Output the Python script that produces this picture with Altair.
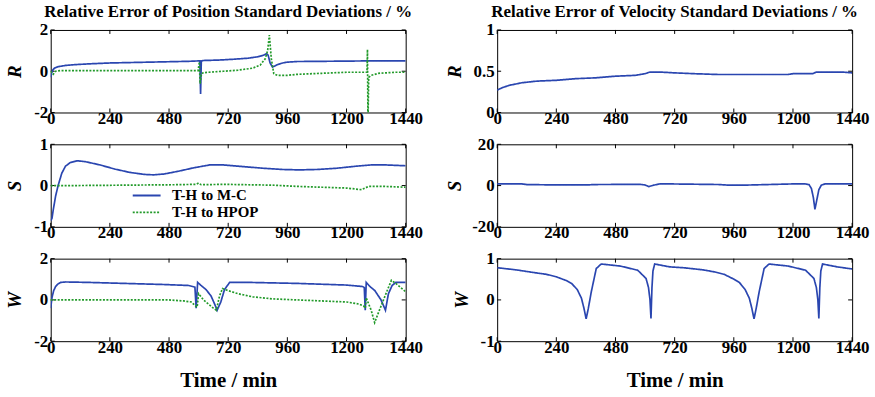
import altair as alt
import pandas as pd

# ---------------- data ----------------
SERIES = ["T-H to M-C", "T-H to HPOP"]
COLORS = ["#2a46b0", "#229a2a"]
X_TICKS = [0, 240, 480, 720, 960, 1200, 1440]

# Position R
pos_r_mc_t = [0, 3, 8, 15, 30, 60, 100, 160, 240, 320, 400, 480, 560, 600, 605, 608, 611, 620, 680, 740, 800, 840, 860, 875, 882, 890, 900, 920, 941, 960, 1000, 1100, 1200, 1280, 1360, 1440]
pos_r_mc_v = [-0.3, -0.1, 0.05, 0.15, 0.22, 0.28, 0.32, 0.36, 0.4, 0.42, 0.44, 0.46, 0.48, 0.5, 0.5, -1.1, 0.5, 0.52, 0.54, 0.58, 0.63, 0.7, 0.76, 0.85, 0.78, 0.4, 0.2, 0.32, 0.4, 0.44, 0.47, 0.48, 0.49, 0.5, 0.5, 0.5]
pos_r_hp_t = [0, 5, 10, 20, 40, 100, 300, 500, 598, 603, 606, 612, 620, 640, 700, 760, 820, 850, 870, 880, 887, 895, 905, 920, 960, 1000, 1100, 1200, 1283, 1285, 1287, 1290, 1300, 1330, 1400, 1440]
pos_r_hp_v = [0.0, -0.1, -0.15, 0.0, 0.03, 0.03, 0.03, 0.03, 0.03, 0.45, -0.6, -0.1, -0.08, -0.05, 0.0, 0.05, 0.15, 0.3, 0.6, 1.0, 1.75, 0.6, -0.12, -0.2, -0.2, -0.15, -0.1, -0.05, -0.05, 1.05, -2.5, -0.3, -0.2, -0.1, -0.05, -0.05]

# Position S
pos_s_mc_t = [0, 5, 10, 20, 30, 45, 60, 80, 108, 140, 200, 260, 320, 380, 417, 460, 520, 580, 645, 700, 780, 860, 940, 1008, 1080, 1160, 1240, 1300, 1360, 1440]
pos_s_mc_v = [-0.85, -0.8, -0.6, -0.25, 0.0, 0.3, 0.47, 0.56, 0.6, 0.58, 0.5, 0.4, 0.32, 0.27, 0.26, 0.28, 0.35, 0.43, 0.5, 0.5, 0.46, 0.42, 0.39, 0.38, 0.39, 0.42, 0.47, 0.5, 0.5, 0.48]
pos_s_hp_t = [0, 20, 100, 300, 500, 590, 600, 610, 700, 800, 900, 1000, 1100, 1200, 1261, 1275, 1290, 1350, 1440]
pos_s_hp_v = [0.0, 0.0, 0.0, 0.01, 0.02, 0.03, 0.06, 0.02, 0.03, 0.02, 0.01, -0.02, -0.04, -0.06, -0.1, -0.06, -0.02, -0.02, -0.04]

# Position W
pos_w_mc_t = [0, 5, 12, 20, 30, 40, 60, 150, 300, 450, 560, 585, 590, 596, 610, 630, 650, 665, 675, 690, 705, 726, 800, 1000, 1200, 1265, 1272, 1276, 1280, 1295, 1315, 1340, 1358, 1370, 1385, 1400, 1440]
pos_w_mc_v = [-0.4, 0.1, 0.45, 0.65, 0.78, 0.85, 0.87, 0.85, 0.8, 0.75, 0.7, 0.62, -0.4, 0.85, 0.7, 0.5, 0.2, -0.2, -0.5, -0.1, 0.5, 0.85, 0.85, 0.8, 0.72, 0.65, 0.6, -0.5, 0.85, 0.65, 0.45, 0.0, -0.5, 0.3, 0.7, 0.85, 0.85]
pos_w_hp_t = [0, 100, 300, 480, 540, 570, 588, 594, 600, 620, 640, 660, 672, 685, 697, 720, 760, 820, 900, 1000, 1100, 1200, 1250, 1270, 1276, 1280, 1290, 1300, 1314, 1330, 1350, 1370, 1382, 1400, 1420, 1440]
pos_w_hp_v = [0.0, 0.0, 0.0, 0.0, -0.05, -0.1, -0.3, -0.35, 0.3, 0.0, -0.2, -0.4, -0.5, 0.2, 0.55, 0.45, 0.3, 0.15, 0.05, 0.0, -0.05, -0.1, -0.2, -0.3, -0.4, 0.1, -0.2, -0.5, -1.1, -0.6, 0.0, 0.6, 0.95, 0.8, 0.6, 0.4]

# Velocity R
vel_r_t = [0, 20, 50, 100, 160, 240, 320, 400, 480, 560, 600, 620, 640, 660, 720, 800, 900, 1000, 1100, 1180, 1200, 1280, 1295, 1310, 1400, 1440]
vel_r_v = [0.27, 0.3, 0.33, 0.36, 0.38, 0.39, 0.41, 0.42, 0.44, 0.45, 0.47, 0.49, 0.49, 0.49, 0.48, 0.47, 0.46, 0.46, 0.46, 0.46, 0.47, 0.47, 0.49, 0.49, 0.49, 0.48]

# Velocity S
vel_s_t = [0, 100, 120, 240, 360, 400, 580, 600, 615, 635, 660, 700, 900, 940, 1000, 1100, 1200, 1250, 1265, 1275, 1283, 1289, 1295, 1305, 1315, 1330, 1440]
vel_s_v = [0.8, 0.8, 0.5, 0.3, 0.3, 0.5, 0.6, 0.3, -0.5, 0.2, 0.8, 0.8, 0.5, 0.2, 0.2, 0.5, 0.8, 0.8, 0.5, -1.5, -6.0, -11.5, -8.0, -2.0, 0.2, 0.8, 0.8]

# Velocity W
vel_w_t = [0, 75, 152, 200, 240, 280, 302, 325, 342, 352, 361, 370, 382, 402, 422, 500, 570, 604, 614, 620, 624, 628, 632, 639, 700, 756, 833, 881, 921, 961, 983, 1006, 1023, 1033, 1042, 1051, 1063, 1083, 1103, 1181, 1251, 1285, 1295, 1301, 1305, 1309, 1313, 1320, 1380, 1440]
vel_w_v = [0.78, 0.73, 0.66, 0.62, 0.56, 0.47, 0.4, 0.25, 0.04, -0.2, -0.46, -0.2, 0.2, 0.76, 0.87, 0.82, 0.72, 0.52, 0.3, 0.0, -0.45, 0.3, 0.7, 0.87, 0.8, 0.78, 0.73, 0.68, 0.62, 0.5, 0.42, 0.25, 0.04, -0.2, -0.46, -0.2, 0.2, 0.76, 0.87, 0.82, 0.72, 0.52, 0.3, 0.0, -0.45, 0.3, 0.7, 0.87, 0.8, 0.75]

# ---------------- build ----------------
W, H = 357, 83
FONT = "Liberation Serif"


def frame(pairs):
    rows = []
    for name, ts, vs in pairs:
        for t, v in zip(ts, vs):
            rows.append({"t": t, "v": v, "series": name})
    return pd.DataFrame(rows)


def panel(pairs, ydom, yticks, ylabel, title=None, xtitle=False, legend=False, ytitle_x=-36):
    df = frame(pairs)
    x = alt.X("t:Q", scale=alt.Scale(domain=[0, 1440], nice=False, zero=False),
              axis=alt.Axis(values=X_TICKS, title="Time / min" if xtitle else None,
                            titleY=46, titleBaseline="alphabetic", titleFontStyle="normal",
                            titleFontSize=21))
    y = alt.Y("v:Q", scale=alt.Scale(domain=ydom, nice=False, zero=False),
              axis=alt.Axis(values=yticks, title=ylabel, titleX=ytitle_x, titleY=H / 2,
                            titleAngle=270, titleBaseline="middle", titleAlign="center",
                            titleFontStyle="italic", titleFontSize=19))
    if legend:
        leg = alt.Legend(orient="none", legendX=89, legendY=44, title=None,
                         symbolType="M-2.8,0H2.8", symbolSize=100, symbolStrokeWidth=1.8,
                         labelFont=FONT, labelFontSize=15, labelFontWeight="bold",
                         labelColor="black", labelOffset=18, rowPadding=1, padding=0, offset=0)
    else:
        leg = None
    color = alt.Color("series:N", scale=alt.Scale(domain=SERIES, range=COLORS), legend=leg)
    dash = alt.StrokeDash("series:N", scale=alt.Scale(domain=SERIES, range=[[1, 0], [2, 1.5]]), legend=leg)
    lines = alt.Chart(df).mark_line(clip=True, strokeWidth=1.7).encode(
        x=x, y=y, color=color, strokeDash=dash, order=alt.Order("t:Q"))
    xt = pd.DataFrame({"t": X_TICKS})
    yt = pd.DataFrame({"v": yticks})
    tick_style = dict(color="black", strokeWidth=1)
    top = alt.Chart(xt).mark_rule(**tick_style).encode(x=x, y=alt.value(0), y2=alt.value(4))
    bot = alt.Chart(xt).mark_rule(**tick_style).encode(x=x, y=alt.value(H - 4), y2=alt.value(H))
    lef = alt.Chart(yt).mark_rule(**tick_style).encode(y=y, x=alt.value(0), x2=alt.value(4))
    rig = alt.Chart(yt).mark_rule(**tick_style).encode(y=y, x=alt.value(W - 4), x2=alt.value(W))
    ch = alt.layer(top, bot, lef, rig, lines).properties(width=W, height=H)
    if title:
        ch = ch.properties(title=alt.Title(title, font=FONT, fontSize=17, fontWeight="bold",
                                           color="black", baseline="alphabetic", offset=-13,
                                           anchor="middle", frame="group"))
    return ch


p_r = panel([(SERIES[0], pos_r_mc_t, pos_r_mc_v), (SERIES[1], pos_r_hp_t, pos_r_hp_v)],
            [-2, 2], [-2, 0, 2], "R", title="Relative Error of Position Standard Deviations / %")
p_s = panel([(SERIES[0], pos_s_mc_t, pos_s_mc_v), (SERIES[1], pos_s_hp_t, pos_s_hp_v)],
            [-1, 1], [-1, 0, 1], "S", legend=True)
p_w = panel([(SERIES[0], pos_w_mc_t, pos_w_mc_v), (SERIES[1], pos_w_hp_t, pos_w_hp_v)],
            [-2, 2], [-2, 0, 2], "W", xtitle=True)
v_r = panel([(SERIES[0], vel_r_t, vel_r_v)], [0, 1], [0, 0.5, 1], "R",
            title="Relative Error of Velocity Standard Deviations / %", ytitle_x=-43)
v_s = panel([(SERIES[0], vel_s_t, vel_s_v)], [-20, 20], [-20, 0, 20], "S", ytitle_x=-43)
v_w = panel([(SERIES[0], vel_w_t, vel_w_v)], [-1, 1], [-1, 0, 1], "W", xtitle=True, ytitle_x=-36)

chart = alt.concat(p_r, v_r, p_s, v_s, p_w, v_w, columns=2,
                   spacing=alt.RowColnumber(row=32, column=92), bounds="flush").resolve_scale(
    color="independent", strokeDash="independent"
).properties(
    padding={"left": 5, "top": 1, "right": 5, "bottom": 3},
    background="white",
).configure_view(
    stroke="black", strokeWidth=1
).configure_axis(
    domain=False, ticks=False, tickSize=0, grid=False,
    labelFont=FONT, labelFontSize=17, labelFontWeight="bold", labelColor="black",
    labelFlush=False, labelOverlap=False, labelExpr="datum.value + ''",
    titleFont=FONT, titleFontWeight="bold", titleColor="black",
).configure_axisX(labelPadding=-2).configure_axisY(labelPadding=3)

chart.save("out.html", embed_options={"renderer": "svg", "actions": False})
